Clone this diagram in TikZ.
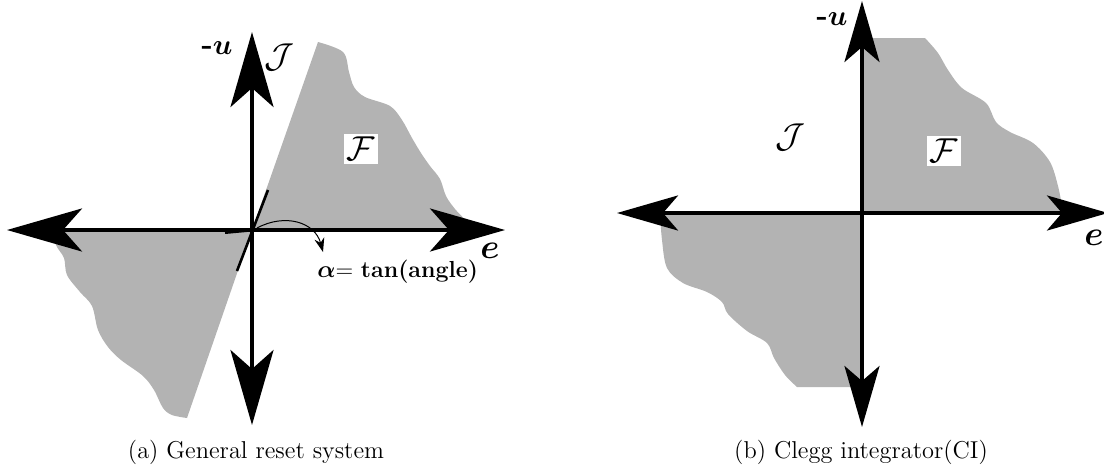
\documentclass[tikz,border=0pt]{standalone}
\usepackage{bm}
\usetikzlibrary{arrows.meta}
\definecolor{regiongray}{RGB}{179,179,179}
\tikzset{
  axisA/.style={line width=2pt,-{Stealth[length=37.5pt,width=21.5pt,inset=9.5pt]}},
  axisB/.style={line width=2pt,-{Stealth[length=30.5pt,width=17.5pt,inset=7.5pt]}},
  region/.style={fill=regiongray,draw=none},
  lbl/.style={inner sep=0pt},
  boxlbl/.style={fill=white,inner sep=1.5pt},
  captiontext/.style={font=\fontsize{12.2}{14}\selectfont,inner sep=0pt,anchor=base},
}
\begin{document}
\begin{tikzpicture}[x=0.5pt,y=-0.5pt]
\useasboundingbox (0,0) rectangle (1104,472);
% ---------------- (a) ----------------
\coordinate (Oa) at (252,230);
\coordinate (Ea) at (505,230);
\coordinate (Wa) at (7,230);
\coordinate (Na) at (252,32);
\coordinate (Sa) at (252,425);
\fill[region] (Oa) -- (318,42) -- plot[smooth,tension=0.55] coordinates {(318,42) (343,52) (349,72) (354,87) (365,97)
  (390,106) (402,120) (412,138) (421,153) (430,166) (440,179)
  (446,196) (455,209) (466,221) (470,230)} -- cycle;
\fill[region] (Oa) -- (54,230) -- plot[smooth,tension=0.55] coordinates {(54,230) (56,245) (64,258) (67,275) (80,292)
  (92,306) (98,330) (108,347) (121,360) (143,376) (154,390)
  (163,408) (172,415) (187,418)} -- cycle;
\draw[axisA] (Oa) -- (Ea);
\draw[axisA] (Oa) -- (Wa);
\draw[axisA] (Oa) -- (Na);
\draw[axisA] (Oa) -- (Sa);
\coordinate (Ta1) at (237,271);
\coordinate (Ta2) at (268,190);
\draw[line width=1.3pt] (Ta1) -- (Ta2);
\coordinate (Ha1) at (225,232.5);
\draw[line width=1.5pt] (Ha1) -- (Oa);
\coordinate (Cs) at (257,228);
\coordinate (Ce) at (323,252);
\draw[line width=0.5pt,-{Stealth[length=7pt,width=5pt]}] (Cs) .. controls (285,213) and (315,222) .. (Ce);
\node[lbl,anchor=base west,font=\fontsize{11.6}{13}\selectfont] (alpha) at (317,277) {$\bm{\alpha}$= \textbf{tan(angle)}};
\node[lbl,font=\fontsize{15}{17}\selectfont] (ua) at (217,48) {\textbf{-}$\bm{u}$};
\node[lbl,font=\fontsize{17}{19}\selectfont] (Ja) at (279,57) {$\mathcal{J}$};
\node[boxlbl,font=\fontsize{17}{19}\selectfont] (Fa) at (361,149) {$\mathcal{F}$};
\node[lbl,font=\fontsize{17}{19}\selectfont] (ea) at (490,251) {$\bm{e}$};
\node[captiontext] (capa) at (256,458) {(a) General reset system};
% ---------------- (b) ----------------
\coordinate (Ob) at (862,213);
\coordinate (Eb) at (1108,213);
\coordinate (Wb) at (617,213);
\coordinate (Nb) at (862,1);
\coordinate (Sb) at (862,427);
\fill[region] (Ob) -- (862,38) -- (925,38) -- plot[smooth,tension=0.55] coordinates {(925,38) (938,53) (948,70) (962,88)
  (986,103) (996,122) (1010,132) (1033,143) (1050,162)
  (1058,186) (1062,207) (1062,213)} -- cycle;
\fill[region] (Ob) -- (862,387) -- (797,387) -- plot[smooth,tension=0.55] coordinates {(797,387) (785,375) (774,358) (767,343)
  (747,331) (728,314) (722,302) (707,292) (683,283) (667,268)
  (662,240) (660,213)} -- cycle;
\draw[axisB] (Ob) -- (Eb);
\draw[axisB] (Ob) -- (Wb);
\draw[axisB] (Ob) -- (Nb);
\draw[axisB] (Ob) -- (Sb);
\node[lbl,font=\fontsize{15}{17}\selectfont] (ub) at (832,19) {\textbf{-}$\bm{u}$};
\node[lbl,font=\fontsize{17}{19}\selectfont] (Jb) at (790,137) {$\mathcal{J}$};
\node[boxlbl,font=\fontsize{17}{19}\selectfont] (Fb) at (944,151) {$\mathcal{F}$};
\node[lbl,font=\fontsize{17}{19}\selectfont] (eb) at (1094,238) {$\bm{e}$};
\node[captiontext] (capb) at (861,458) {(b) Clegg integrator(CI)};
\end{tikzpicture}
\end{document}
